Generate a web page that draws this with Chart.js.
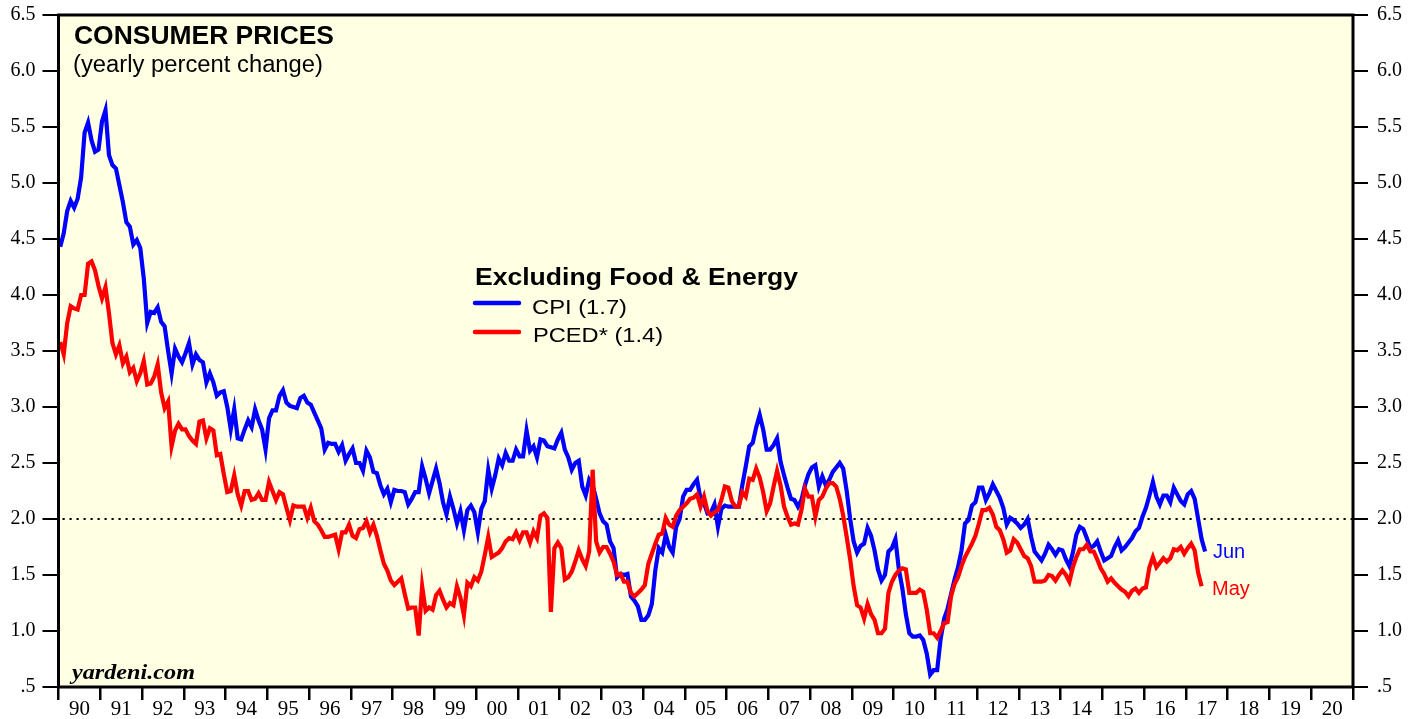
<!DOCTYPE html>
<html>
<head>
<meta charset="utf-8">
<script src="https://cdn.jsdelivr.net/npm/chart.js@4.4.1/dist/chart.umd.min.js"></script>
<style>
  html, body { margin: 0; padding: 0; background: #fff; }
  canvas { display: block; }
</style>
</head>
<body>
<canvas id="chart" width="1421" height="719"></canvas>
<script>
// monthly values, Jan 1990 onward (yearly percent change)
const cpiCore = [
  4.43, 4.55, 4.75, 4.84, 4.78, 4.86, 5.05, 5.45, 5.54, 5.38,
  5.28, 5.30, 5.55, 5.65, 5.25, 5.16, 5.13, 4.98, 4.83, 4.65,
  4.61, 4.45, 4.49, 4.42, 4.15, 3.75, 3.85, 3.84, 3.89, 3.76,
  3.72, 3.50, 3.30, 3.52, 3.45, 3.40, 3.48, 3.57, 3.38, 3.47,
  3.42, 3.40, 3.22, 3.30, 3.22, 3.10, 3.13, 3.14, 3.00, 2.80,
  2.98, 2.72, 2.71, 2.80, 2.88, 2.82, 2.98, 2.88, 2.80, 2.62,
  2.90, 2.97, 2.97, 3.10, 3.15, 3.04, 3.01, 3.00, 2.99, 3.08,
  3.10, 3.04, 3.02, 2.95, 2.88, 2.81, 2.62, 2.68, 2.67, 2.67,
  2.60, 2.66, 2.52, 2.58, 2.63, 2.50, 2.50, 2.43, 2.61, 2.55,
  2.42, 2.41, 2.30, 2.22, 2.27, 2.15, 2.26, 2.25, 2.25, 2.24,
  2.13, 2.18, 2.24, 2.24, 2.47, 2.36, 2.23, 2.34, 2.45, 2.32,
  2.15, 2.04, 2.20, 2.09, 1.96, 2.07, 1.90, 2.08, 2.12, 2.06,
  1.88, 2.09, 2.16, 2.44, 2.27, 2.39, 2.54, 2.48, 2.59, 2.52,
  2.52, 2.62, 2.56, 2.56, 2.79, 2.61, 2.65, 2.55, 2.71, 2.70,
  2.65, 2.64, 2.63, 2.71, 2.77, 2.62, 2.55, 2.44, 2.50, 2.52,
  2.29, 2.21, 2.35, 2.30, 2.18, 2.05, 1.98, 1.95, 1.80, 1.74,
  1.48, 1.51, 1.50, 1.51, 1.31, 1.27, 1.22, 1.10, 1.10, 1.14,
  1.24, 1.54, 1.74, 1.70, 1.86, 1.75, 1.70, 1.93, 2.00, 2.20,
  2.26, 2.26, 2.31, 2.35, 2.18, 2.14, 2.05, 2.06, 2.13, 1.93,
  2.09, 2.12, 2.11, 2.11, 2.11, 2.11, 2.30, 2.47, 2.65, 2.68,
  2.82, 2.93, 2.80, 2.62, 2.62, 2.66, 2.72, 2.51, 2.39, 2.28,
  2.18, 2.17, 2.11, 2.17, 2.30, 2.40, 2.46, 2.48, 2.29, 2.38,
  2.30, 2.35, 2.42, 2.46, 2.50, 2.45, 2.25, 2.00, 1.80, 1.70,
  1.76, 1.78, 1.92, 1.85, 1.72, 1.55, 1.45, 1.50, 1.71, 1.74,
  1.82, 1.55, 1.38, 1.15, 0.98, 0.95, 0.95, 0.96, 0.92, 0.80,
  0.61, 0.65, 0.65, 0.93, 1.11, 1.20, 1.33, 1.46, 1.57, 1.72,
  1.96, 1.99, 2.12, 2.15, 2.28, 2.28, 2.17, 2.23, 2.31, 2.25,
  2.19, 2.10, 1.95, 2.01, 1.99, 1.96, 1.92, 1.95, 2.00, 1.84,
  1.71, 1.67, 1.63, 1.69, 1.77, 1.73, 1.68, 1.73, 1.72, 1.64,
  1.58, 1.70, 1.86, 1.93, 1.91, 1.83, 1.74, 1.76, 1.80, 1.71,
  1.63, 1.65, 1.67, 1.75, 1.81, 1.72, 1.75, 1.79, 1.83, 1.89,
  1.92, 2.02, 2.10, 2.21, 2.33, 2.20, 2.13, 2.21, 2.21, 2.15,
  2.28, 2.22, 2.16, 2.13, 2.22, 2.25, 2.18, 2.00, 1.82, 1.71
];

const pcedCore = [
  3.58, 3.47, 3.75, 3.90, 3.88, 3.87, 4.00, 4.00, 4.28, 4.30,
  4.22, 4.08, 3.97, 4.07, 3.84, 3.57, 3.47, 3.55, 3.39, 3.45,
  3.31, 3.35, 3.23, 3.30, 3.41, 3.20, 3.21, 3.27, 3.38, 3.13,
  2.99, 3.05, 2.65, 2.79, 2.85, 2.80, 2.80, 2.74, 2.70, 2.67,
  2.87, 2.88, 2.72, 2.81, 2.79, 2.57, 2.58, 2.40, 2.24, 2.25,
  2.39, 2.22, 2.12, 2.25, 2.25, 2.17, 2.18, 2.23, 2.17, 2.17,
  2.33, 2.25, 2.17, 2.24, 2.22, 2.10, 1.99, 2.12, 2.11, 2.11,
  2.11, 2.01, 2.10, 1.98, 1.95, 1.90, 1.84, 1.84, 1.85, 1.86,
  1.73, 1.88, 1.88, 1.95, 1.85, 1.83, 1.91, 1.92, 1.98, 1.88,
  1.95, 1.85, 1.72, 1.60, 1.54, 1.45, 1.41, 1.44, 1.47, 1.33,
  1.20, 1.21, 1.21, 0.96, 1.40, 1.18, 1.21, 1.19, 1.32, 1.36,
  1.28, 1.21, 1.25, 1.23, 1.40, 1.30, 1.14, 1.43, 1.40, 1.48,
  1.45, 1.53, 1.68, 1.84, 1.66, 1.68, 1.70, 1.74, 1.80, 1.83,
  1.82, 1.88, 1.81, 1.88, 1.88, 1.79, 1.89, 1.83, 2.03, 2.05,
  2.01, 1.17, 1.74, 1.79, 1.74, 1.46, 1.48, 1.53, 1.62, 1.72,
  1.64, 1.58, 1.71, 2.44, 1.80, 1.70, 1.75, 1.75, 1.69, 1.62,
  1.50, 1.51, 1.44, 1.44, 1.34, 1.31, 1.34, 1.37, 1.41, 1.60,
  1.69, 1.78, 1.86, 1.87, 2.01, 1.95, 1.93, 2.03, 2.08, 2.11,
  2.14, 2.18, 2.19, 2.22, 2.11, 2.20, 2.07, 2.03, 2.06, 2.08,
  2.17, 2.29, 2.28, 2.16, 2.11, 2.11, 2.24, 2.20, 2.36, 2.35,
  2.45, 2.37, 2.24, 2.07, 2.14, 2.29, 2.43, 2.30, 2.11, 2.02,
  1.95, 1.96, 1.95, 2.08, 2.27, 2.20, 2.20, 2.02, 2.17, 2.20,
  2.27, 2.32, 2.32, 2.29, 2.18, 2.03, 1.84, 1.64, 1.40, 1.23,
  1.21, 1.11, 1.24, 1.15, 1.10, 0.98, 0.98, 1.02, 1.34, 1.44,
  1.50, 1.54, 1.56, 1.55, 1.34, 1.34, 1.34, 1.37, 1.35, 1.19,
  0.98, 0.98, 0.94, 1.00, 1.07, 1.08, 1.31, 1.42, 1.48, 1.58,
  1.66, 1.72, 1.78, 1.85, 1.96, 2.08, 2.08, 2.10, 2.04, 1.93,
  1.90, 1.82, 1.70, 1.72, 1.82, 1.79, 1.73, 1.67, 1.65, 1.58,
  1.44, 1.44, 1.44, 1.45, 1.50, 1.49, 1.45, 1.50, 1.54, 1.50,
  1.44, 1.57, 1.66, 1.73, 1.73, 1.77, 1.71, 1.71, 1.64, 1.56,
  1.51, 1.44, 1.47, 1.43, 1.40, 1.37, 1.35, 1.31, 1.36, 1.38,
  1.34, 1.38, 1.39, 1.57, 1.66, 1.57, 1.61, 1.65, 1.62, 1.65,
  1.73, 1.72, 1.75, 1.69, 1.74, 1.78, 1.72, 1.52, 1.40
];

const yearLabels = [
  "90", "91", "92", "93", "94", "95", "96", "97", "98", "99",
  "00", "01", "02", "03", "04", "05", "06", "07", "08", "09",
  "10", "11", "12", "13", "14", "15", "16", "17", "18", "19", "20"
];
const yTickLabels = [".5", "1.0", "1.5", "2.0", "2.5", "3.0", "3.5", "4.0", "4.5", "5.0", "5.5", "6.0", "6.5"];
const seriesNames = ["CPI (1.7)", "PCED* (1.4)"];
const lastMonths = ["Jun", "May"];
const targetLine = 2.0;

const SANS = "'Liberation Sans', Arial, Helvetica, sans-serif";
const SERIF = "'Liberation Serif', 'Times New Roman', serif";
const BLUE = "#0000ff";
const RED = "#ff0000";

// draws text, optionally stretched horizontally to a given width
function drawText(ctx, text, x, y, font, color, width) {
    ctx.save();
    ctx.font = font;
    ctx.fillStyle = color;
    ctx.textBaseline = "alphabetic";
    ctx.textAlign = "left";
    const w = ctx.measureText(text).width;
    ctx.translate(x, y);
    if (width) {
        ctx.scale(width / w, 1);
    }
    ctx.fillText(text, 0, 0);
    ctx.restore();
}

const decorPlugin = {
    id: "decor",
    beforeDraw(chart) {
        const { ctx, chartArea: a } = chart;
        ctx.save();
        ctx.fillStyle = "#ffffff";
        ctx.fillRect(0, 0, chart.width, chart.height);
        ctx.fillStyle = "#ffffe4";
        ctx.fillRect(a.left, a.top, a.right - a.left, a.bottom - a.top);
        ctx.restore();
    },
    beforeDatasetsDraw(chart) {
        const { ctx, chartArea: a } = chart;
        const y = chart.scales.y.getPixelForValue(targetLine);
        ctx.save();
        ctx.strokeStyle = "#000";
        ctx.lineWidth = 2.2;
        ctx.setLineDash([2.2, 4.8]);
        ctx.beginPath();
        ctx.moveTo(a.left + 4, y);
        ctx.lineTo(a.right, y);
        ctx.stroke();
        ctx.restore();
    },
    afterDraw(chart) {
        const { ctx, chartArea: a } = chart;
        ctx.save();
        ctx.strokeStyle = "#000";
        ctx.lineWidth = 3;
        ctx.strokeRect(a.left, a.top, a.right - a.left, a.bottom - a.top);
        ctx.restore();

        drawText(ctx, "CONSUMER PRICES", 74, 44, "bold 25px " + SANS, "#000", 260);
        drawText(ctx, "(yearly percent change)", 73, 72, "23px " + SANS, "#000", 250);
        drawText(ctx, "yardeni.com", 72, 679, "italic bold 21px " + SERIF, "#000", 123);

        // legend
        drawText(ctx, "Excluding Food & Energy", 475, 285, "bold 24px " + SANS, "#000", 323);
        ctx.save();
        ctx.lineWidth = 4.5;
        ctx.lineCap = "round";
        ctx.strokeStyle = BLUE;
        ctx.beginPath();
        ctx.moveTo(475, 303);
        ctx.lineTo(519, 303);
        ctx.stroke();
        ctx.strokeStyle = RED;
        ctx.beginPath();
        ctx.moveTo(475, 332);
        ctx.lineTo(519, 332);
        ctx.stroke();
        ctx.restore();
        drawText(ctx, seriesNames[0], 532, 314, "21px " + SANS, "#000", 95);
        drawText(ctx, seriesNames[1], 533, 342, "21px " + SANS, "#000", 130);

        drawText(ctx, lastMonths[0], 1213, 558, "20px " + SANS, BLUE);
        drawText(ctx, lastMonths[1], 1212, 595, "20px " + SANS, RED);
    },
};

const yAxisBase = {
    min: 0.5,
    max: 6.5,
    border: { display: false },
    grid: {
        drawOnChartArea: false,
        drawTicks: true,
        color: "#000",
        lineWidth: 2,
    },
    ticks: {
        stepSize: 0.5,
        color: "#000",
        font: { family: SERIF, size: 20 },
        callback: (value, index) => yTickLabels[index],
    },
};

const config = {
    type: "line",
    data: {
        datasets: [
            {
                label: seriesNames[1],
                data: pcedCore.map((v, i) => ({ x: i + 0.5, y: v })),
                borderColor: RED,
                borderWidth: 4.2,
                pointRadius: 0,
                tension: 0,
            },
            {
                label: seriesNames[0],
                data: cpiCore.map((v, i) => ({ x: i + 0.5, y: v })),
                borderColor: BLUE,
                borderWidth: 4.2,
                pointRadius: 0,
                tension: 0,
            },
        ],
    },
    options: {
        responsive: false,
        animation: false,
        layout: { padding: { top: 15, left: 0, right: 0, bottom: 0 } },
        plugins: {
            legend: { display: false },
            tooltip: { enabled: false },
        },
        scales: {
            x: {
                type: "linear",
                min: 0,
                max: yearLabels.length * 12,
                border: { display: false },
                grid: {
                    drawOnChartArea: false,
                    drawTicks: true,
                    tickLength: 13,
                    color: "#000",
                    lineWidth: 2.5,
                },
                ticks: {
                    stepSize: 12,
                    autoSkip: false,
                    maxRotation: 0,
                    minRotation: 0,
                    padding: -3,
                    labelOffset: 20.9,
                    color: "#000",
                    font: { family: SERIF, size: 21 },
                    callback: (value) => yearLabels[Math.round(value / 12)] || "",
                },
                afterFit: (scale) => {
                    scale.height = 32;
                    scale.paddingLeft = 0;
                    scale.paddingRight = 0;
                },
            },
            y: {
                ...yAxisBase,
                position: "left",
                grid: { ...yAxisBase.grid, tickLength: 16 },
                ticks: { ...yAxisBase.ticks, padding: 7 },
                afterFit: (scale) => {
                    scale.width = 58.5;
                    scale.paddingTop = 0;
                    scale.paddingBottom = 0;
                },
            },
            y2: {
                ...yAxisBase,
                position: "right",
                grid: { ...yAxisBase.grid, tickLength: 15 },
                ticks: { ...yAxisBase.ticks, padding: 9 },
                afterFit: (scale) => {
                    scale.width = 68;
                    scale.paddingTop = 0;
                    scale.paddingBottom = 0;
                },
            },
        },
    },
    plugins: [decorPlugin],
};

new Chart(document.getElementById("chart"), config);
</script>
</body>
</html>
